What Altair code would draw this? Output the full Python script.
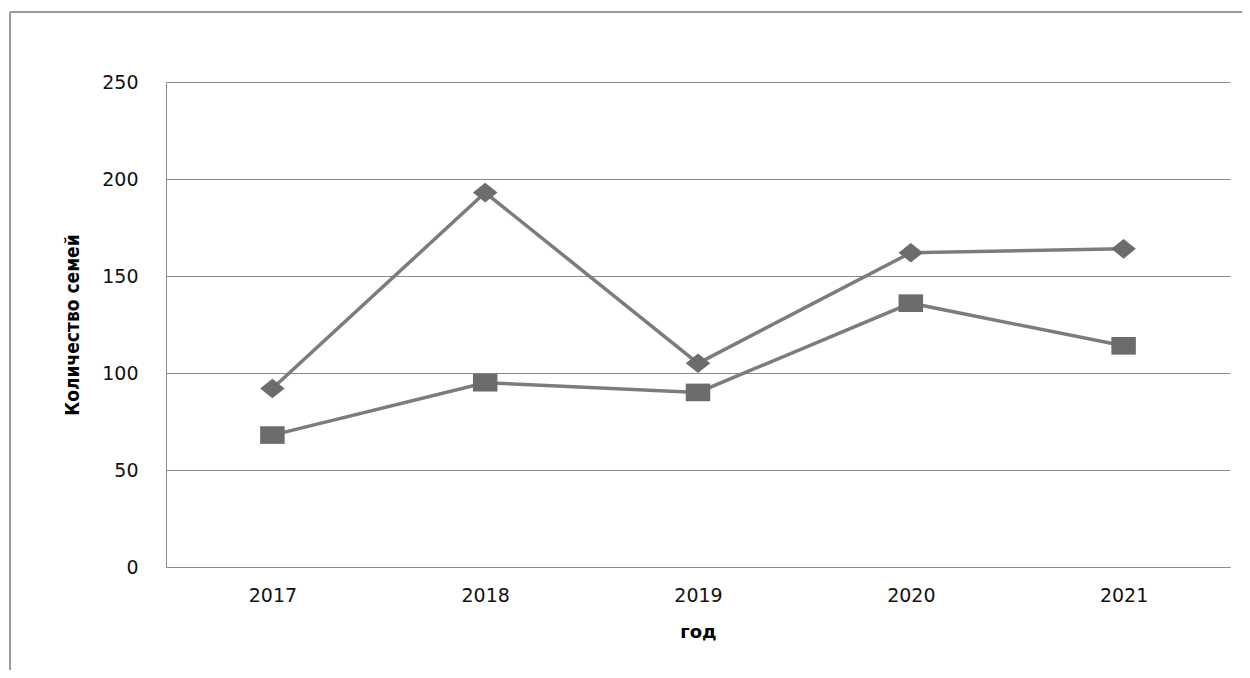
import altair as alt
import pandas as pd

years = ["2017", "2018", "2019", "2020", "2021"]
series_a = [92, 193, 105, 162, 164]   # diamonds
series_b = [68, 95, 90, 136, 114]     # squares
series_names = ["A", "B"]
y_ticks = [0, 50, 100, 150, 200, 250]

rows = []
for name, vals in zip(series_names, [series_a, series_b]):
    for yr, v in zip(years, vals):
        rows.append({"year": yr, "value": v, "series": name})
df = pd.DataFrame(rows)

W, H = 1064, 485
PL, PT = 158, 74
GRAY = "#8a8a8a"

x = alt.X("year:O", sort=years, scale=alt.Scale(padding=0.5),
          axis=alt.Axis(title="год", labelAngle=0, ticks=False, grid=False,
                        domainColor=GRAY, domainWidth=1,
                        labelFont="DejaVu Sans", labelFontSize=19, labelColor="#111111",
                        labelPadding=19,
                        titleFont="DejaVu Sans", titleFontSize=18, titleFontWeight="bold",
                        titleColor="#000000",
                        titleX=W / 2, titleY=65, titleBaseline="middle", titleAlign="center"))
y = alt.Y("value:Q", scale=alt.Scale(domain=[0, 250], nice=False),
          axis=alt.Axis(title="Количество семей", values=y_ticks, ticks=False,
                        grid=True, gridColor=GRAY, gridWidth=1,
                        domainColor=GRAY, domainWidth=1,
                        labelFont="DejaVu Sans", labelFontSize=19, labelColor="#111111",
                        labelPadding=28,
                        titleFont="Liberation Sans Narrow, DejaVu Sans Condensed, sans-serif",
                        titleFontSize=19, titleFontWeight="bold", titleColor="#000000",
                        titleAngle=-90, titleX=-94, titleY=H / 2,
                        titleAlign="center", titleBaseline="middle"))

color = alt.Color("series:N", scale=alt.Scale(domain=series_names, range=["#7c7c7c", "#7c7c7c"]), legend=None)
shape = alt.Shape("series:N", scale=alt.Scale(domain=series_names,
                  range=["M-1,0L0,-0.8L1,0L0,0.8Z", "M-1,-0.72L1,-0.72L1,0.72L-1,0.72Z"]), legend=None)

base = alt.Chart(df)
lines = base.mark_line(strokeWidth=3.5).encode(x=x, y=y, color=color, detail="series:N")
points = base.mark_point(filled=True, opacity=1, size=600, color="#6c6c6c").encode(
    x="year:O", y="value:Q", shape=shape)

dummy = pd.DataFrame({"v": [0]})
frame_top = alt.Chart(dummy).mark_rule(color="#9a9a9a", strokeWidth=2).encode(
    x=alt.value(10 - 8 - PL), x2=alt.value(W + 200), y=alt.value(12 - 8 - PT))
frame_left = alt.Chart(dummy).mark_rule(color="#9a9a9a", strokeWidth=2).encode(
    x=alt.value(10 - 8 - PL), y=alt.value(12 - 8 - PT), y2=alt.value(H + 300))

chart = alt.layer(frame_top, frame_left, lines, points).properties(
    width=W, height=H,
    background="white",
    view=alt.ViewBackground(strokeWidth=0, strokeOpacity=0),
    autosize=alt.AutoSizeParams(type="none"),
    padding={"left": PL, "top": PT, "right": 12, "bottom": 103},
).configure_view(strokeWidth=0, strokeOpacity=0)

chart.save("out.html", embed_options={"renderer": "svg", "actions": False})
